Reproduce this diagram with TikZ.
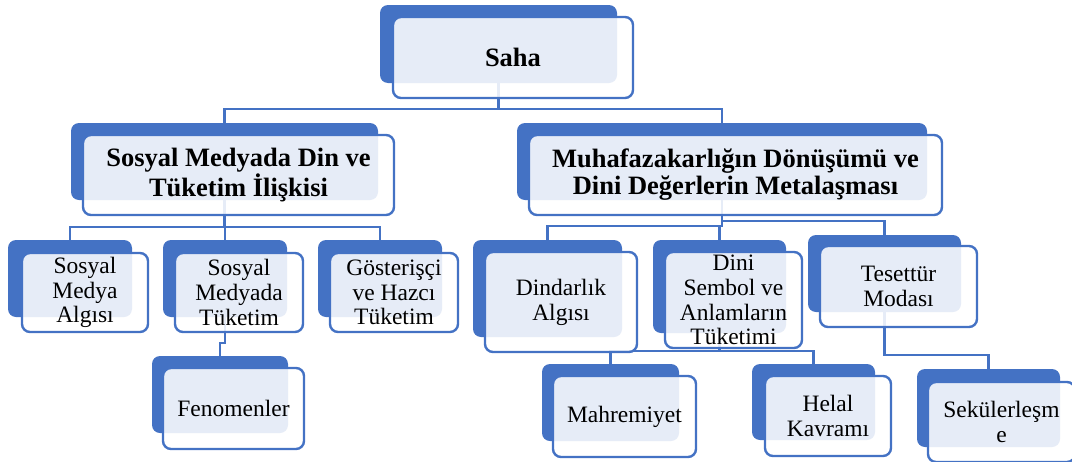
\documentclass[tikz,border=0pt]{standalone}
\usepackage{fontspec}
\setmainfont{Liberation Serif}
\usetikzlibrary{backgrounds}
\definecolor{myblue}{HTML}{4472C4}
\tikzset{
  backbox/.style={draw=none, fill=myblue, rounded corners=8pt, inner sep=0pt},
  frontbox/.style={draw=myblue, line width=2.4pt, fill=white, fill opacity=0.87, text opacity=1,
                   rounded corners=8pt, inner sep=0pt, align=center, text=black},
  conn/.style={draw=myblue, line width=2.4pt},
  bigtxt/.style={font=\fontsize{26.5}{27}\selectfont\bfseries},
  smalltxt/.style={font=\fontsize{23.5}{24.8}\selectfont},
}
\begin{document}
\begin{tikzpicture}[x=1pt, y=-1pt]
\useasboundingbox (0,0) rectangle (1072,461);
\clip (0,0) rectangle (1072,461);

% level 1
\node[backbox, minimum width=237pt, minimum height=78pt] (sahaB) at (498.5,44) {};
\node[frontbox, bigtxt, minimum width=240pt, minimum height=81pt] (saha) at (513,57.5) {Saha};

% level 2
\node[backbox, minimum width=307pt, minimum height=77pt] (lB) at (224.5,161.5) {};
\node[frontbox, bigtxt, minimum width=311pt, minimum height=80pt] (l) at (238.5,175) {Sosyal Medyada Din ve\\Tüketim İlişkisi};
\node[backbox, minimum width=410pt, minimum height=77pt] (rB) at (722,161.5) {};
\node[frontbox, bigtxt, minimum width=413pt, minimum height=80pt] (r) at (735.5,175) {Muhafazakarlığın Dönüşümü ve\\Dini Değerlerin Metalaşması};

% level 3 left
\node[backbox, minimum width=124pt, minimum height=77pt] (a1B) at (70,278.5) {};
\node[frontbox, smalltxt, minimum width=126pt, minimum height=79pt] (a1) at (85,292.5) {Sosyal\\Medya\\Algısı};
\node[backbox, minimum width=124pt, minimum height=77pt] (a2B) at (225,278.5) {};
\node[frontbox, smalltxt, minimum width=128pt, minimum height=79pt] (a2) at (239,292.5) {Sosyal\\Medyada\\Tüketim};
\node[backbox, minimum width=124pt, minimum height=77pt] (a3B) at (380,278.5) {};
\node[frontbox, smalltxt, minimum width=128pt, minimum height=79pt] (a3) at (394,292.5) {Gösterişçi\\ve Hazcı\\Tüketim};
\node[backbox, minimum width=136pt, minimum height=77pt] (fenB) at (220,394.5) {};
\node[frontbox, smalltxt, minimum width=141pt, minimum height=81pt] (fen) at (233.5,408.5) {Fenomenler};

% level 3 right
\node[backbox, minimum width=149pt, minimum height=97pt] (b1B) at (547.5,288.5) {};
\node[frontbox, smalltxt, minimum width=152pt, minimum height=100pt] (b1) at (561,302) {Dindarlık\\Algısı};
\node[backbox, minimum width=133pt, minimum height=93pt] (b2B) at (719.5,286.5) {};
\node[frontbox, smalltxt, minimum width=137pt, minimum height=96pt] (b2) at (733.5,300) {Dini\\Sembol ve\\Anlamların\\Tüketimi};
\node[backbox, minimum width=153pt, minimum height=77pt] (b3B) at (884.5,273.5) {};
\node[frontbox, smalltxt, minimum width=157pt, minimum height=81pt] (b3) at (898.5,286.5) {Tesettür\\Modası};

% level 4
\node[backbox, minimum width=137pt, minimum height=77pt] (c1B) at (610.5,402.5) {};
\node[frontbox, smalltxt, minimum width=143pt, minimum height=81pt] (c1) at (624.5,416.5) {Mahremiyet};
\node[backbox, minimum width=123pt, minimum height=76pt] (c2B) at (813.5,402) {};
\node[frontbox, smalltxt, minimum width=126pt, minimum height=80pt] (c2) at (828,416) {Helal\\Kavramı};
\node[backbox, minimum width=143pt, minimum height=78pt] (c3B) at (988.5,408) {};
\node[frontbox, smalltxt, minimum width=147pt, minimum height=80pt] (c3) at (1001.5,422) {Sekülerleşm\\e};

\begin{pgfonlayer}{background}
\draw[conn] (sahaB.south) -- ++(0,26) -| (lB.north);
\draw[conn] (sahaB.south) -- ++(0,26) -| (rB.north);
\draw[conn] (lB.south) -- ++(0,27) -| (a1B.north);
\draw[conn] (lB.south) -- ++(0,27) -| (a2B.north);
\draw[conn] (lB.south) -- ++(0,27) -| (a3B.north);
\draw[conn] (a2B.south) -- ++(0,26) -| (fenB.north);
\draw[conn] (rB.south) -- ++(0,26) -| (b1B.north);
\draw[conn] (rB.south) -- ++(0,26) -| (b2B.north);
\draw[conn] (rB.south) -- ++(0,21) -| (b3B.north);
\draw[conn] (b2B.south) -- ++(0,18) -| (c1B.north);
\draw[conn] (b2B.south) -- ++(0,18) -| (c2B.north);
\draw[conn] (b3B.south) -- ++(0,43) -| (c3B.north);
\end{pgfonlayer}
\end{tikzpicture}
\end{document}
